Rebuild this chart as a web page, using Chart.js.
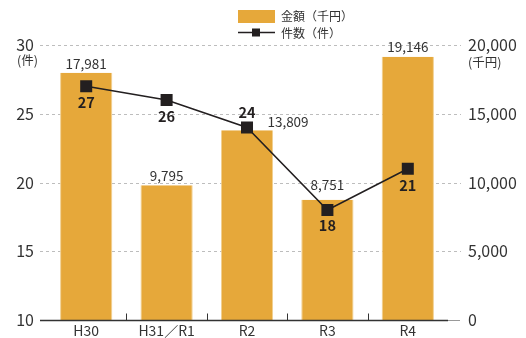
<!DOCTYPE html>
<html>
<head>
<meta charset="utf-8">
<script src="https://cdn.jsdelivr.net/npm/chart.js@4/dist/chart.umd.min.js"></script>
<style>
  html, body { margin: 0; padding: 0; background: #fff; }
  #wrap { width: 526px; height: 338px; }
</style>
</head>
<body>
<div id="wrap"><canvas id="chart" width="526" height="338"></canvas></div>
<script>
// data
const years = ['H30', 'H31／R1', 'R2', 'R3', 'R4'];
const amounts = [17981, 9795, 13809, 8751, 19146];   // 金額（千円）
const counts = [27, 26, 24, 18, 21];                 // 件数（件）
const countTicks = [10, 15, 20, 25, 30];
const amountTicks = [0, 5000, 10000, 15000, 20000];

const FONT = '"Noto Sans CJK JP", "Noto Sans", sans-serif';
const TEXT = '#333333';
const BAR = '#e6a83a';

// label placement tweaks (dx, dy from the mark)
const barLabelShift = [[0, -9], [0, -9], [41, -8], [0, -15], [0, -10]];
const lineLabelShift = [16, 16, -15, 15, 17];

const fmt = v => v.toLocaleString('en-US');

// keep the axis label padding from pushing the plot area around
function fixAxis(width) {
    return s => {
        s.width = width;
        s.paddingTop = 0;
        s.paddingBottom = 0;
    };
}

const decor = {
    id: 'decor',
    beforeDatasetsDraw(chart) {
        const ctx = chart.ctx;
        const y1 = chart.scales.y1;
        ctx.save();
        ctx.strokeStyle = '#bdbdbd';
        ctx.lineWidth = 1;
        ctx.setLineDash([3, 3]);
        amountTicks.forEach(t => {
            if (t === 0) return;
            const py = Math.round(y1.getPixelForValue(t)) + 0.5;
            ctx.beginPath();
            ctx.moveTo(40, py);
            ctx.lineTo(461, py);
            ctx.stroke();
        });
        ctx.restore();
    },
    afterDatasetsDraw(chart) {
        const ctx = chart.ctx;
        const area = chart.chartArea;
        const x = chart.scales.x;
        const y = chart.scales.y;
        const y1 = chart.scales.y1;
        ctx.save();

        // baseline
        const by = Math.round(area.bottom) + 0.5;
        ctx.setLineDash([]);
        ctx.lineWidth = 1.5;
        ctx.strokeStyle = '#333';
        ctx.beginPath(); ctx.moveTo(40, by); ctx.lineTo(448, by); ctx.stroke();
        ctx.strokeStyle = '#999';
        ctx.lineWidth = 1;
        ctx.beginPath(); ctx.moveTo(448, by); ctx.lineTo(460, by); ctx.stroke();

        // category ticks
        ctx.strokeStyle = '#333';
        ctx.lineWidth = 1;
        for (let i = 1; i < years.length; i++) {
            const px = Math.round((x.getPixelForValue(i - 1) + x.getPixelForValue(i)) / 2) + 0.5;
            ctx.beginPath(); ctx.moveTo(px, by); ctx.lineTo(px, by - 7); ctx.stroke();
        }

        // bar labels
        ctx.fillStyle = TEXT;
        ctx.textAlign = 'center';
        ctx.textBaseline = 'middle';
        ctx.font = '13.5px ' + FONT;
        amounts.forEach((v, i) => {
            const px = x.getPixelForValue(i) + barLabelShift[i][0];
            const py = y1.getPixelForValue(v) + barLabelShift[i][1];
            ctx.fillText(fmt(v), px, py);
        });

        // line labels
        ctx.fillStyle = '#231f20';
        ctx.font = 'bold 14.5px ' + FONT;
        counts.forEach((v, i) => {
            const px = x.getPixelForValue(i);
            const py = y.getPixelForValue(v) + lineLabelShift[i];
            ctx.fillText(String(v), px, py);
        });

        // unit labels
        ctx.fillStyle = TEXT;
        ctx.font = '12.5px ' + FONT;
        ctx.textAlign = 'right';
        ctx.fillText('(件)', 38, 60);
        ctx.textAlign = 'left';
        ctx.fillText('(千円)', 468, 62);

        // legend
        ctx.fillStyle = BAR;
        ctx.fillRect(238, 10, 37, 13);
        ctx.strokeStyle = '#231f20';
        ctx.lineWidth = 1.5;
        ctx.beginPath(); ctx.moveTo(238, 32.5); ctx.lineTo(275, 32.5); ctx.stroke();
        ctx.fillStyle = '#231f20';
        ctx.fillRect(252, 28.5, 8, 8);
        ctx.fillStyle = TEXT;
        ctx.font = '12px ' + FONT;
        ctx.textAlign = 'left';
        ctx.fillText('金額（千円）', 281, 16.5);
        ctx.fillText('件数（件）', 281, 33);

        ctx.restore();
    }
};

new Chart(document.getElementById('chart'), {
    data: {
        labels: years,
        datasets: [
            {
                type: 'line',
                label: '件数（件）',
                data: counts,
                yAxisID: 'y',
                order: 0,
                borderColor: '#231f20',
                borderWidth: 1.5,
                pointStyle: 'rect',
                pointRadius: 8.5,
                pointBackgroundColor: '#231f20',
                pointBorderColor: '#231f20',
                pointBorderWidth: 0,
                tension: 0
            },
            {
                type: 'bar',
                label: '金額（千円）',
                data: amounts,
                yAxisID: 'y1',
                order: 1,
                backgroundColor: BAR,
                borderColor: '#f1cf8f',
                borderWidth: { left: 1, right: 1, top: 0, bottom: 0 },
                categoryPercentage: 1,
                barPercentage: 0.65
            }
        ]
    },
    options: {
        responsive: false,
        animation: false,
        layout: { padding: { top: 45, left: 0, right: 0, bottom: 0 } },
        plugins: { legend: { display: false }, tooltip: { enabled: false } },
        scales: {
            x: {
                grid: { display: false, drawTicks: false },
                border: { display: false },
                ticks: { color: TEXT, font: { family: FONT, size: 14 }, padding: 2, maxRotation: 0 },
                afterFit: s => { s.height = 18; }
            },
            y: {
                position: 'left',
                min: 10, max: 30,
                afterBuildTicks: s => { s.ticks = countTicks.map(v => ({ value: v })); },
                grid: { display: false, drawTicks: false },
                border: { display: false },
                ticks: { color: TEXT, font: { family: FONT, size: 16 }, padding: 12 },
                afterFit: fixAxis(46)
            },
            y1: {
                position: 'right',
                min: 0, max: 20000,
                afterBuildTicks: s => { s.ticks = amountTicks.map(v => ({ value: v })); },
                grid: { display: false, drawTicks: false },
                border: { display: false },
                ticks: { color: TEXT, font: { family: FONT, size: 16 }, padding: 20, callback: v => fmt(v) },
                afterFit: fixAxis(78)
            }
        }
    },
    plugins: [decor]
});
</script>
</body>
</html>
